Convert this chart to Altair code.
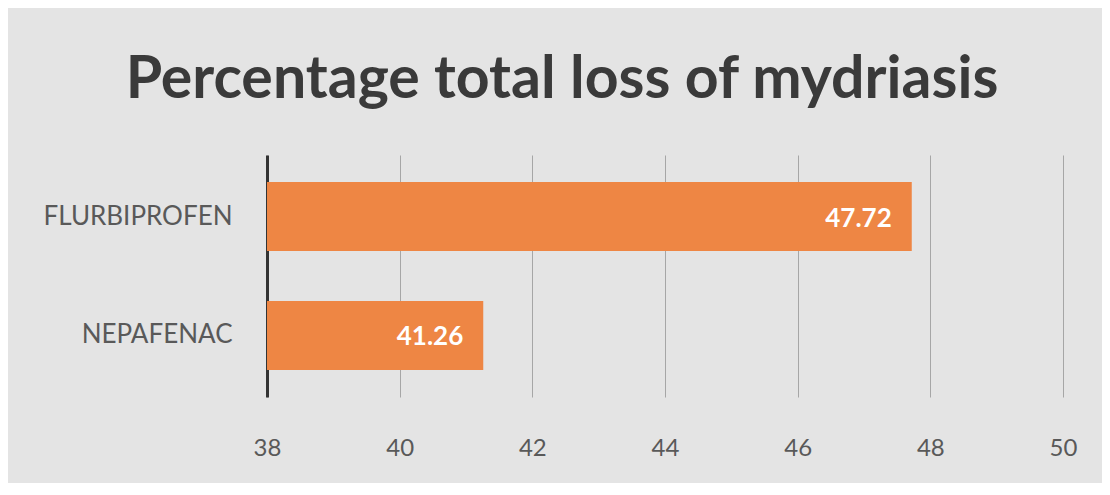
import altair as alt
import pandas as pd

drugs = ["FLURBIPROFEN", "NEPAFENAC"]
loss_pct = [47.72, 41.26]
tick_values = [38, 40, 42, 44, 46, 48, 50]
axis_min = 38
axis_max = 50

df = pd.DataFrame({"drug": drugs, "loss": loss_pct})

base = alt.Chart(df)

y_enc = alt.Y(
    "drug:N",
    sort=None,
    title=None,
    scale=alt.Scale(paddingInner=0.42, paddingOuter=0.227),
    axis=alt.Axis(
        ticks=False,
        domain=True,
        domainColor="#333333",
        domainWidth=3,
        labelFont="Lato",
        labelFontSize=26,
        labelColor="#595959",
        labelPadding=35,
        labelLimit=400,
        grid=False,
    ),
)

x_enc = alt.X(
    "loss:Q",
    title=None,
    scale=alt.Scale(domain=[axis_min, axis_max], zero=False, nice=False),
    axis=alt.Axis(
        values=tick_values,
        format="d",
        ticks=False,
        domain=False,
        grid=True,
        gridColor="#a6a6a6",
        gridWidth=1,
        labelFont="Lato",
        labelFontSize=24,
        labelColor="#595959",
        labelPadding=39,
        labelBaseline="top",
        labelFlush=False,
    ),
)

bars = base.mark_bar(color="#EE8644").encode(
    y=y_enc,
    x=x_enc,
    x2=alt.datum(axis_min),
)

labels = base.mark_text(
    align="right",
    baseline="middle",
    dx=-20,
    dy=2,
    color="white",
    font="Lato",
    fontWeight="bold",
    fontSize=26,
).encode(
    y=alt.Y("drug:N", sort=None),
    x=alt.X("loss:Q"),
    text=alt.Text("loss:Q", format=".2f"),
)

chart = (
    alt.layer(bars, labels)
    .properties(
        width=796,
        height=242,
        autosize=alt.AutoSizeParams(type="none"),
        padding={"left": 259, "top": 147, "right": 39, "bottom": 86},
        background="#e4e4e4",
        title=alt.TitleParams(
            "Percentage total loss of mydriasis",
            font="Lato",
            fontWeight="bold",
            fontSize=59,
            color="#3a3a3a",
            anchor="middle",
            dx=-103,
            offset=45,
        ),
    )
    .configure_view(stroke=None)
)

chart.save("out.html", embed_options={"renderer": "svg", "actions": False})
